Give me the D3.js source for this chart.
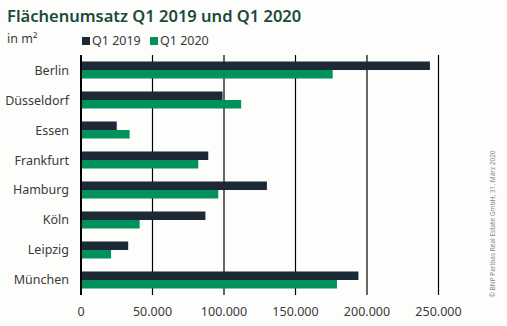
<!DOCTYPE html>
<html>
<head>
<meta charset="utf-8">
<script src="https://cdn.jsdelivr.net/npm/d3@7"></script>
<style>
  body { margin: 0; background: #fdfdfc; }
  svg { font-family: "Noto Sans", "Open Sans", sans-serif; }
</style>
</head>
<body>
<svg class="chart"></svg>
<script>
const size = {w: 507, h: 326};

// chart data
const cities = ['Berlin', 'Düsseldorf', 'Essen', 'Frankfurt', 'Hamburg', 'Köln', 'Leipzig', 'München'];
const q12019 = [244000, 99000, 25000, 89000, 130000, 87000, 33000, 194000];
const q12020 = [176000, 112000, 34000, 82000, 96000, 41000, 21000, 179000];
const seriesNames = ['Q1 2019', 'Q1 2020'];
const xTicks = [0, 50000, 100000, 150000, 200000, 250000];

const colors = ['#1d2a35', '#00915c'];

const svg = d3.select('svg.chart')
    .attr('width', size.w)
    .attr('height', size.h);

// title + unit
svg.append('text')
    .attr('x', 7).attr('y', 22)
    .attr('fill', '#1b4b39')
    .attr('font-size', 16.5)
    .attr('font-weight', 600)
    .text('Flächenumsatz Q1 2019 und Q1 2020');

svg.append('text')
    .attr('x', 7).attr('y', 43)
    .attr('fill', '#3a3a3a')
    .attr('font-size', 12.5)
    .text('in m²');

// legend
const legend = svg.append('g').attr('transform', 'translate(82,35)');
seriesNames.forEach((name, i) => {
    const g = legend.append('g').attr('transform', `translate(${i * 68},0)`);
    g.append('rect').attr('width', 8).attr('height', 8).attr('y', 2).attr('fill', colors[i]);
    g.append('text').attr('x', 10).attr('y', 10)
        .attr('fill', '#3a3a3a').attr('font-size', 12.5)
        .text(name);
});

// scales
const x = d3.scaleLinear()
    .domain([0, 250000])
    .range([81, 438.5]);

const y = d3.scaleBand()
    .domain(cities)
    .range([55, 295])
    .paddingInner(0.433)
    .paddingOuter(0.2167);

const yInner = d3.scaleBand()
    .domain(seriesNames)
    .range([0, y.bandwidth()]);

// gridlines
svg.append('g')
    .selectAll('line')
    .data(xTicks.slice(1))
    .join('line')
    .attr('x1', d => x(d)).attr('x2', d => x(d))
    .attr('y1', 55).attr('y2', 295)
    .attr('stroke', '#000')
    .attr('stroke-width', 1.2);

// bars
const rows = cities.map((c, i) => ({city: c, vals: [q12019[i], q12020[i]]}));
const rowG = svg.append('g')
    .selectAll('g')
    .data(rows)
    .join('g')
    .attr('transform', d => `translate(0,${y(d.city)})`);

rowG.selectAll('rect')
    .data(d => d.vals.map((v, i) => ({v, i})))
    .join('rect')
    .attr('x', x(0))
    .attr('y', d => yInner(seriesNames[d.i]))
    .attr('width', d => x(d.v) - x(0))
    .attr('height', yInner.bandwidth())
    .attr('fill', d => colors[d.i]);

// zero axis line
svg.append('line')
    .attr('x1', x(0)).attr('x2', x(0))
    .attr('y1', 55).attr('y2', 295)
    .attr('stroke', '#000')
    .attr('stroke-width', 2);

// city labels
svg.append('g')
    .selectAll('text')
    .data(cities)
    .join('text')
    .attr('x', 69)
    .attr('y', d => y(d) + y.bandwidth() / 2 + 4.5)
    .attr('text-anchor', 'end')
    .attr('fill', '#3a3a3a')
    .attr('font-size', 12.5)
    .text(d => d);

// x tick labels
const fmt = d3.formatLocale({decimal: ',', thousands: '.', grouping: [3], currency: ['', '€']}).format(',');
svg.append('g')
    .selectAll('text')
    .data(xTicks)
    .join('text')
    .attr('x', d => x(d))
    .attr('y', 316)
    .attr('text-anchor', 'middle')
    .attr('fill', '#3a3a3a')
    .attr('font-size', 12.5)
    .text(d => fmt(d));

// source note
svg.append('text')
    .attr('transform', 'translate(495,224) rotate(-90)')
    .attr('text-anchor', 'middle')
    .attr('fill', '#888')
    .attr('font-size', 6.5)
    .text('© BNP Paribas Real Estate GmbH, 31. März 2020');
</script>
</body>
</html>
